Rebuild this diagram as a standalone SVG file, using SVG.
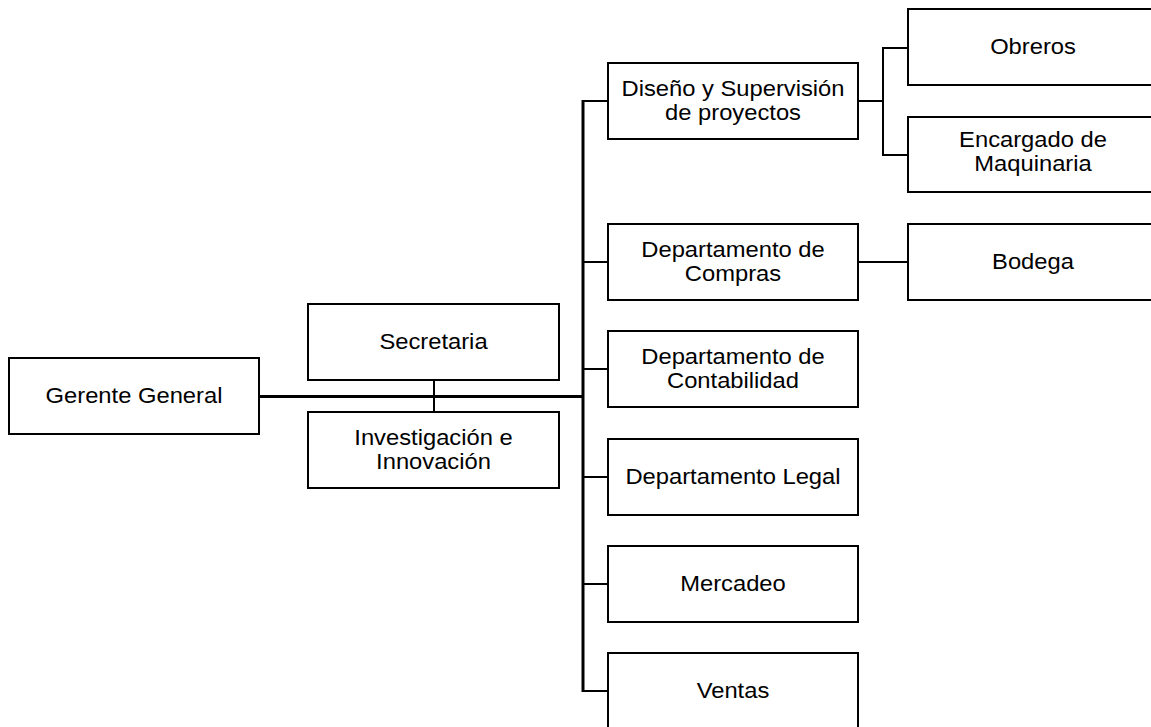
<svg xmlns="http://www.w3.org/2000/svg" width="1151" height="727" viewBox="0 0 1151 727">
<style>
.box{fill:#fff;stroke:#000;stroke-width:2}
.t{font-family:"Liberation Sans",Arial,sans-serif;font-size:22px;fill:#000;text-anchor:middle}
.thick{stroke:#000;stroke-width:3;fill:none}
.thin{stroke:#000;stroke-width:2;fill:none}
</style>
<rect width="1151" height="727" fill="#fff"/>
<g id="connectors">
<line class="thick" x1="259" y1="396.5" x2="584" y2="396.5"/>
<line class="thick" x1="583" y1="100" x2="583" y2="692"/>
<line class="thin" x1="434" y1="380" x2="434" y2="412"/>
<line class="thin" x1="583" y1="101" x2="608" y2="101"/>
<line class="thin" x1="583" y1="262" x2="608" y2="262"/>
<line class="thin" x1="583" y1="369" x2="608" y2="369"/>
<line class="thin" x1="583" y1="477" x2="608" y2="477"/>
<line class="thin" x1="583" y1="584" x2="608" y2="584"/>
<line class="thin" x1="583" y1="691" x2="608" y2="691"/>
<line class="thin" x1="858" y1="101" x2="883" y2="101"/>
<polyline class="thin" points="908,48 883,48 883,155 908,155"/>
<line class="thin" x1="858" y1="262" x2="908" y2="262"/>
</g>
<g id="gerente">
<rect class="box" x="9" y="358" width="250" height="76"/>
<text class="t" transform="translate(134,403) scale(1.08,1)">Gerente General</text>
</g>
<g id="secretaria">
<rect class="box" x="308" y="304" width="251" height="76"/>
<text class="t" transform="translate(433.5,349) scale(1.08,1)">Secretaria</text>
</g>
<g id="investigacion">
<rect class="box" x="308" y="412" width="251" height="76"/>
<text class="t" transform="translate(433.5,444.5) scale(1.08,1)"><tspan x="0" y="0">Investigación e</tspan><tspan x="0" y="24.5">Innovación</tspan></text>
</g>
<g id="diseno">
<rect class="box" x="608" y="63" width="250" height="76"/>
<text class="t" transform="translate(733,95.5) scale(1.08,1)"><tspan x="0" y="0">Diseño y Supervisión</tspan><tspan x="0" y="24.5">de proyectos</tspan></text>
</g>
<g id="compras">
<rect class="box" x="608" y="224" width="250" height="76"/>
<text class="t" transform="translate(733,256.5) scale(1.08,1)"><tspan x="0" y="0">Departamento de</tspan><tspan x="0" y="24.5">Compras</tspan></text>
</g>
<g id="contabilidad">
<rect class="box" x="608" y="331" width="250" height="76"/>
<text class="t" transform="translate(733,363.5) scale(1.08,1)"><tspan x="0" y="0">Departamento de</tspan><tspan x="0" y="24.5">Contabilidad</tspan></text>
</g>
<g id="legal">
<rect class="box" x="608" y="439" width="250" height="76"/>
<text class="t" transform="translate(733,484) scale(1.08,1)">Departamento Legal</text>
</g>
<g id="mercadeo">
<rect class="box" x="608" y="546" width="250" height="76"/>
<text class="t" transform="translate(733,591) scale(1.08,1)">Mercadeo</text>
</g>
<g id="ventas">
<rect class="box" x="608" y="653" width="250" height="78"/>
<text class="t" transform="translate(733,698) scale(1.08,1)">Ventas</text>
</g>
<g id="obreros">
<rect class="box" x="908" y="9" width="252" height="76"/>
<text class="t" transform="translate(1033,54) scale(1.08,1)">Obreros</text>
</g>
<g id="encargado">
<rect class="box" x="908" y="117" width="252" height="75"/>
<text class="t" transform="translate(1033,146.5) scale(1.08,1)"><tspan x="0" y="0">Encargado de</tspan><tspan x="0" y="24.5">Maquinaria</tspan></text>
</g>
<g id="bodega">
<rect class="box" x="908" y="224" width="252" height="76"/>
<text class="t" transform="translate(1033,269) scale(1.08,1)">Bodega</text>
</g>
</svg>
